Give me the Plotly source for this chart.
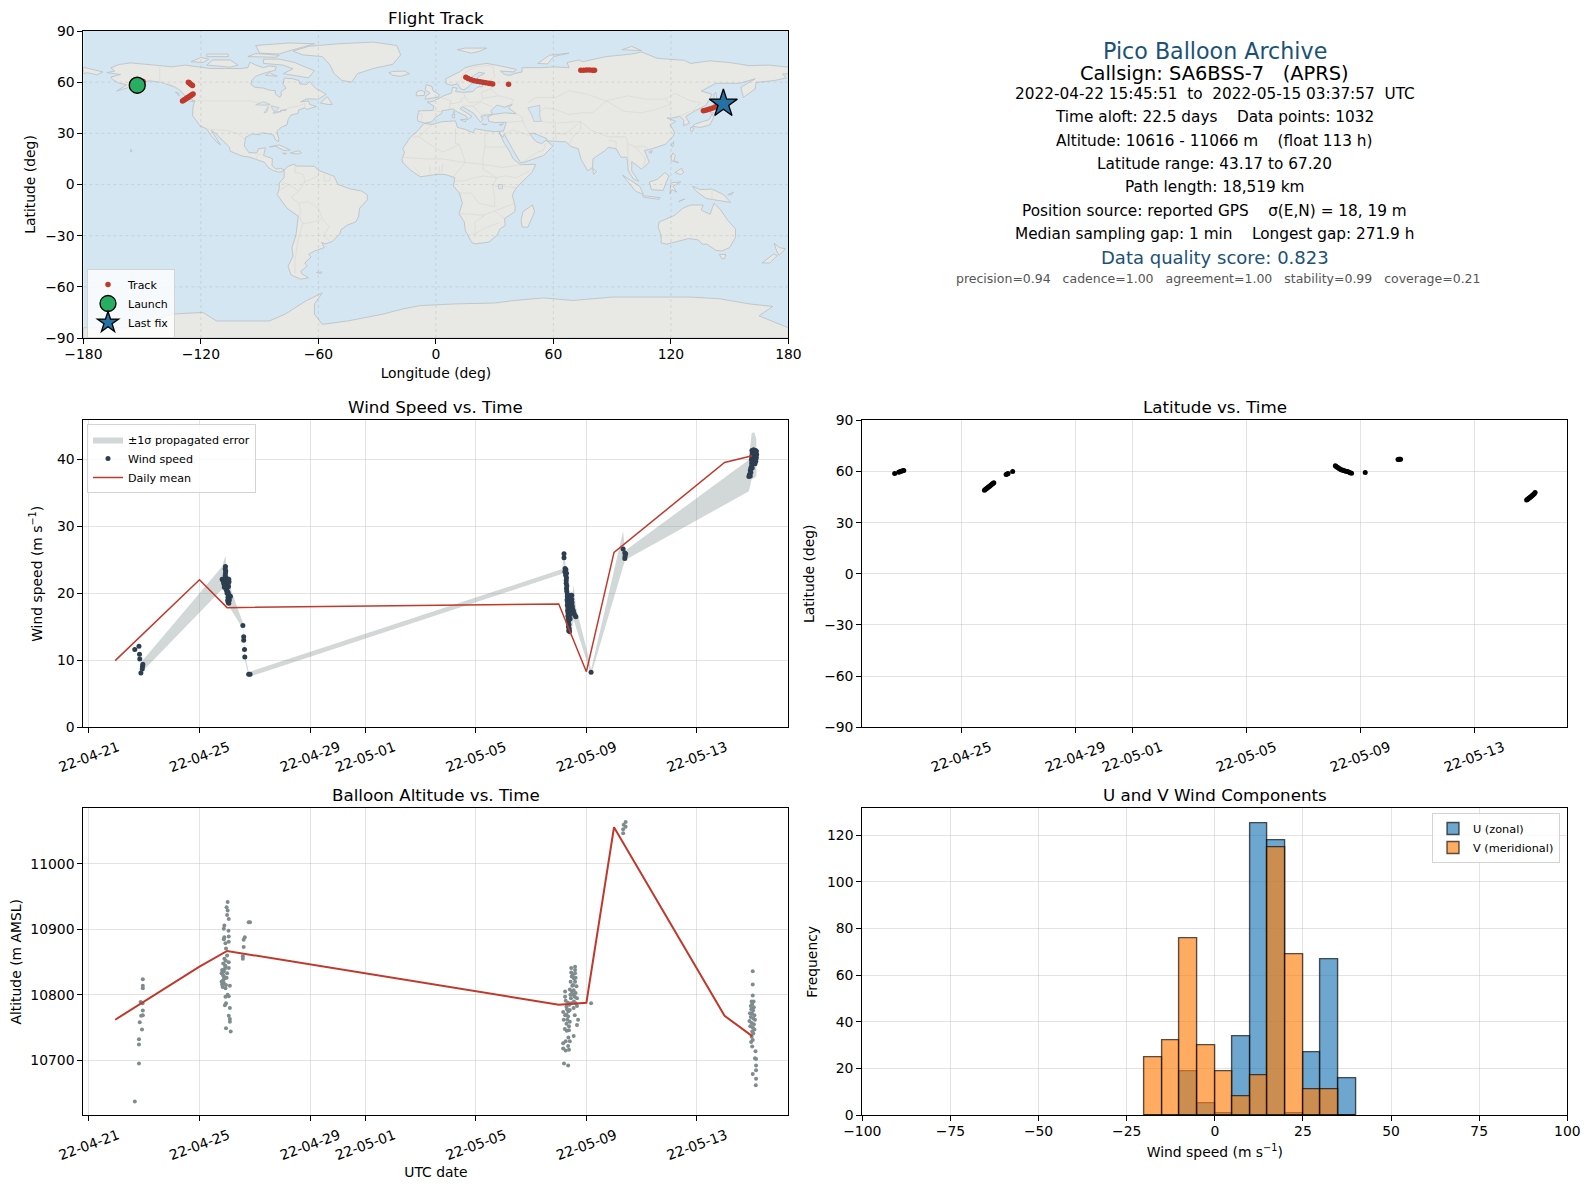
import pandas as pd
import plotly.graph_objects as go

W, H = 1590, 1189
FONT = "DejaVu Sans"
RED = "#c0392b"
NAVY = "#2c3e50"
GREY = "#7f8c8d"
TITLE_BLUE = "#1a5276"
OCEAN = "#d4e6f1"

# ---- time axis -------------------------------------------------------------
EPOCH = "2022-04-21"
TIME_RANGE = ["2022-04-20 19:12", "2022-05-16 07:26"]
LAT_TIME_RANGE = ["2022-04-21 12:50", "2022-05-16 06:29"]
TICK_DATES = ["2022-04-21", "2022-04-25", "2022-04-29", "2022-05-01", "2022-05-05", "2022-05-09", "2022-05-13"]
TICK_LABELS = ["22-04-21", "22-04-25", "22-04-29", "22-05-01", "22-05-05", "22-05-09", "22-05-13"]

# ---- daily means (days since EPOCH) ----------------------------------------
MEAN_DAYS = [0.95, 4, 5, 17, 18, 19, 23, 24]
MEAN_WIND = [9.95, 22.0, 17.85, 18.4, 8.3, 26.1, 39.5, 40.5]
MEAN_ALT = [10762, 10843, 10867, 10785, 10788, 11056, 10768, 10737]

# ---- wind speed samples ----------------------------------------------------
WIND_DAYS = [
    1.66, 1.81, 1.83, 1.84, 1.95, 1.94, 1.93, 1.88,
    4.94, 4.93, 4.95, 4.94, 4.93, 4.95, 4.82, 4.85, 4.87, 4.90, 4.92, 4.96, 5.02, 5.06, 5.0, 5.04, 5.07,
    4.88, 4.92, 4.98, 5.03, 4.9, 4.95, 5.0, 5.05, 4.98, 5.03, 5.0, 5.05, 5.1, 5.07, 5.12, 5.03, 5.05, 5.08, 5.02, 5.04, 5.06,
    5.57, 5.60, 5.60, 5.63, 5.64, 5.78, 5.83,
    17.19, 17.19, 17.23, 17.26, 17.22, 17.25, 17.28, 17.25, 17.28, 17.27, 17.27, 17.29, 17.28, 17.29, 17.31, 17.31,
    17.30, 17.32, 17.31, 17.33, 17.32, 17.34, 17.33, 17.35, 17.36, 17.34, 17.37, 17.35, 17.38, 17.36, 17.39,
    17.44, 17.47, 17.43, 17.47, 17.42, 17.48, 17.42, 17.49, 17.43, 17.50, 17.45, 17.53, 17.55, 17.58, 17.62, 17.40, 17.41,
    18.17,
    19.33, 19.39, 19.42, 19.39, 19.40,
    23.99, 24.05, 24.12, 24.15, 24.0, 24.07, 24.13, 24.16, 23.98, 24.05, 24.12, 24.15, 23.97, 24.03, 24.1, 24.13,
    23.98, 24.05, 24.1, 23.98, 24.0, 23.95, 23.93, 23.95, 23.9, 23.93, 23.88,
]
WIND_SPEED = [
    11.6, 12.1, 10.9, 10.2, 9.4, 9.1, 8.7, 8.1,
    24.0, 23.6, 23.3, 23.0, 22.6, 22.4, 22.1, 21.9, 21.7, 22.0, 21.8, 22.0, 22.0, 22.1, 21.8, 21.6, 21.7,
    21.4, 21.2, 21.3, 21.3, 20.9, 20.8, 20.8, 21.0, 20.4, 20.2, 20.0, 19.9, 19.6, 19.5, 19.5, 19.4, 19.2, 19.0, 18.9, 18.6, 18.5,
    15.2, 13.5, 13.0, 11.6, 10.5, 7.9, 7.9,
    25.9, 25.3, 23.7, 23.5, 23.2, 23.1, 23.0, 22.7, 22.3, 21.9, 21.5, 21.1, 20.7, 20.3, 19.9, 19.5,
    19.0, 18.6, 18.2, 17.8, 17.4, 17.0, 16.6, 16.2, 15.9, 15.6, 15.3, 15.0, 14.7, 14.4, 14.3,
    19.7, 19.7, 19.2, 19.1, 18.7, 18.6, 18.2, 18.1, 17.7, 17.7, 17.3, 17.4, 17.0, 16.7, 16.5, 16.8, 16.2,
    8.2,
    26.6, 26.0, 25.9, 25.2, 25.5,
    41.3, 41.4, 41.3, 41.2, 40.8, 40.9, 40.8, 40.7, 40.4, 40.3, 40.3, 40.2, 39.9, 39.9, 39.9, 39.7,
    39.4, 39.4, 39.3, 39.0, 38.7, 38.7, 38.3, 38.0, 37.7, 37.5, 37.4,
]

# ---- +/- 1 sigma band ------------------------------------------------------
BAND_DAYS = [1.88, 1.95, 4.82, 4.94, 5.0, 5.07, 5.15, 5.57, 5.64, 5.78, 5.83, 17.13, 17.19, 17.25, 17.33, 17.42,
             17.54, 17.62, 18.08, 18.17, 19.33, 19.39, 19.42, 23.88, 23.98, 24.08, 24.15]
BAND_UPPER = [8.8, 10.0, 24.0, 25.6, 22.5, 22.7, 20.4, 15.6, 11.0, 8.3, 8.3, 23.6, 26.2, 24.0, 21.0, 18.0,
              21.2, 18.0, 10.5, 8.6, 29.3, 26.5, 26.4, 39.9, 43.9, 44.0, 43.0]
BAND_LOWER = [7.6, 8.4, 20.6, 20.0, 19.5, 18.0, 17.5, 14.7, 10.1, 7.5, 7.5, 22.9, 24.7, 20.0, 14.0, 13.5,
              16.0, 15.0, 9.0, 7.8, 24.0, 24.8, 25.0, 35.2, 37.0, 37.2, 37.5]

# ---- altitude samples ------------------------------------------------------
ALT_DAYS = [
    1.66, 1.81, 1.81, 1.81, 1.92, 1.84, 1.89, 1.95, 1.95, 1.87, 1.94, 1.95, 1.95, 1.95,
    5.02, 4.98, 5.02, 5.0, 5.06, 4.90, 4.88, 5.05, 5.06, 4.90, 4.88, 5.06, 4.94, 4.96, 5.0, 5.06, 4.86, 4.94, 5.06,
    4.82, 4.88, 5.0, 4.80, 4.88, 4.98, 4.80, 4.82, 4.96, 5.10, 4.94, 5.02, 4.94, 5.06, 4.96, 4.92, 5.10, 5.06, 5.10, 5.10,
    4.96, 5.13, 4.84, 4.86, 4.90, 4.92, 4.85, 4.93, 4.90, 4.84, 4.88, 4.95,
    5.57, 5.57, 5.60, 5.60, 5.64, 5.78, 5.83,
    17.59, 17.45, 17.59, 17.45, 17.59, 17.47, 17.61, 17.43, 17.59, 17.49, 17.64, 17.40, 17.54, 17.23, 17.61, 17.42,
    17.23, 17.58, 17.66, 17.25, 17.34, 17.46, 17.61, 17.28, 17.66, 17.16, 17.40, 17.54, 17.23, 17.34, 17.58, 17.18,
    17.40, 17.70, 17.28, 17.66, 17.22, 17.37, 17.54, 17.35, 17.25, 17.40, 17.16, 17.34, 17.16, 17.25, 17.37, 17.19, 17.34,
    17.50, 17.55, 17.52, 17.48, 17.52, 17.55, 17.30, 17.35, 17.28, 17.31, 17.37, 17.29, 17.44, 17.38,
    18.17,
    19.42, 19.35, 19.42, 19.33, 19.33,
    24.02, 24.02, 24.02, 23.98, 24.05, 24.0, 23.95, 24.06, 23.97, 24.03, 23.92, 24.0, 24.08, 23.95, 24.04, 24.1, 23.9,
    23.98, 24.06, 23.93, 24.02, 24.08, 24.0, 24.04, 23.98, 24.02, 23.96, 24.0, 24.12, 24.10, 24.14, 24.14, 24.14, 24.02, 24.14, 24.13,
]
ALT_METERS = [
    10637, 10695, 10724, 10732, 10747, 10758, 10768, 10769, 10776, 10789, 10787, 10810, 10814, 10824,
    10942, 10934, 10929, 10922, 10916, 10906, 10901, 10898, 10889, 10888, 10885, 10881, 10879, 10871, 10860, 10850, 10848, 10843, 10841,
    10838, 10836, 10833, 10833, 10828, 10826, 10820, 10816, 10815, 10814, 10810, 10800, 10797, 10798, 10787, 10784, 10780, 10768, 10763, 10759,
    10749, 10744, 10835, 10830, 10825, 10840, 10822, 10845, 10855, 10812, 10818, 10852,
    10855, 10859, 10873, 10884, 10888, 10911, 10911,
    10843, 10841, 10838, 10834, 10833, 10828, 10826, 10820, 10820, 10814, 10813, 10808, 10807, 10805, 10803, 10800,
    10797, 10797, 10795, 10791, 10788, 10787, 10787, 10782, 10783, 10774, 10777, 10780, 10769, 10767, 10769, 10762,
    10759, 10762, 10756, 10754, 10748, 10746, 10737, 10735, 10729, 10729, 10726, 10722, 10718, 10715, 10716, 10695, 10692,
    10830, 10825, 10815, 10805, 10800, 10790, 10778, 10775, 10770, 10762, 10752, 10745, 10795, 10785,
    10787,
    11064, 11060, 11057, 11053, 11047,
    10836, 10816, 10799, 10790, 10790, 10786, 10783, 10781, 10778, 10776, 10772, 10771, 10769, 10766, 10764, 10762, 10760,
    10757, 10755, 10752, 10750, 10747, 10744, 10741, 10736, 10731, 10728, 10721, 10714, 10703, 10702, 10692, 10685, 10679, 10672, 10662,
]

# ---- latitude samples ------------------------------------------------------
LAT_DAYS = [1.67, 1.81, 1.85, 1.90, 1.95, 1.99,
            4.82, 4.85, 4.88, 4.91, 4.94, 4.97, 5.0, 5.03, 5.06, 5.09, 5.12, 5.15,
            5.58, 5.62, 5.65, 5.81,
            17.13, 17.16, 17.20, 17.24, 17.28, 17.32, 17.36, 17.40, 17.45, 17.50, 17.55, 17.60, 17.65, 17.70,
            18.18, 19.33, 19.36, 19.39, 19.42,
            23.84, 23.87, 23.90, 23.93, 23.96, 23.99, 24.02, 24.05, 24.08, 24.11, 24.14]
LAT_DEG = [58.8, 59.6, 59.8, 60.2, 60.4, 60.6,
           49.0, 49.4, 49.8, 50.2, 50.6, 51.0, 51.4, 51.8, 52.2, 52.6, 53.0, 53.4,
           58.2, 58.5, 58.8, 60.0,
           63.3, 62.9, 62.4, 62.0, 61.6, 61.2, 60.9, 60.7, 60.4, 60.2, 60.0, 59.7, 59.3, 58.9,
           59.4, 67.0, 67.1, 67.2, 67.1,
           43.2, 43.6, 44.0, 44.4, 44.8, 45.2, 45.6, 46.0, 46.5, 47.0, 47.6]

# ---- track on the map ------------------------------------------------------
TRACK_LON = [-153.5, -152.5, -151.5, -150.5, -149.5,
             -129.4, -128.8, -128.2, -127.6, -127.0, -126.4, -125.8, -125.2, -124.6, -124.0,
             -126.4, -126.0, -125.5, -125.0, -124.3,
             15.3, 16.5, 18.0, 19.5, 21.0, 22.5, 24.0, 25.5, 27.0, 28.0, 29.0, 37.1,
             74.0, 75.5, 77.0, 78.5, 80.0, 81.0,
             136.6, 137.8, 139.0, 140.2, 141.4, 142.6, 143.8, 145.0, 146.0]
TRACK_LAT = [58.6, 59.2, 59.6, 60.0, 60.4,
             49.0, 49.4, 49.9, 50.3, 50.8, 51.2, 51.7, 52.1, 52.6, 53.0,
             60.0, 59.6, 59.1, 58.6, 58.0,
             62.9, 62.2, 61.4, 60.9, 60.6, 60.3, 60.0, 59.7, 59.4, 59.2, 58.9, 58.8,
             67.0, 67.0, 67.1, 67.1, 67.0, 67.0,
             43.2, 43.6, 44.0, 44.4, 44.9, 45.5, 46.0, 46.7, 47.4]
LAUNCH_LON, LAUNCH_LAT = [-152.5], [58.2]
LAST_LON, LAST_LAT = [146.8], [47.4]

# ---- histogram -------------------------------------------------------------
BIN_LEFT = [-20, -15, -10, -5, 0, 5, 10, 15, 20, 25, 30, 35]
U_COUNTS = [0, 0, 19, 5, 1, 34, 125, 118, 1, 27, 67, 16]
V_COUNTS = [25, 32, 76, 30, 19, 8, 17, 115, 69, 11, 11, 0]
BIN_WIDTH = 5

# ---- info panel ------------------------------------------------------------
INFO_LINES = [
    ("Pico Balloon Archive", 22.2, TITLE_BLUE, 50.9),
    ("Callsign: SA6BSS-7   (APRS)", 19.4, "black", 73.2),
    ("2022-04-22 15:45:51  to  2022-05-15 03:37:57  UTC", 15.3, "black", 93.8),
    ("Time aloft: 22.5 days    Data points: 1032", 15.3, "black", 117.3),
    ("Altitude: 10616 - 11066 m    (float 113 h)", 15.3, "black", 140.6),
    ("Latitude range: 43.17 to 67.20", 15.3, "black", 163.9),
    ("Path length: 18,519 km", 15.3, "black", 187.2),
    ("Position source: reported GPS    σ(E,N) = 18, 19 m", 15.3, "black", 210.6),
    ("Median sampling gap: 1 min    Longest gap: 271.9 h", 15.3, "black", 234.0),
    ("Data quality score: 0.823", 18.0, TITLE_BLUE, 257.6),
    ("precision=0.94   cadence=1.00   agreement=1.00   stability=0.99   coverage=0.21", 12.5, "#555555", 278.7),
]

# ---- hand-read outlines for the base map (lon, lat) ------------------------
LAND = [
    # North America
    [(-168,65.6),(-164,66.5),(-166,68.4),(-162,70.3),(-156,71.3),(-150,70.5),(-141,69.7),(-135,69),(-128,70),(-125,69.5),(-115,68),(-108,68),(-100,68),(-96,68.5),(-95,71.8),(-92,70),(-88,68.5),(-85,69.5),(-81.5,69),(-82,67),(-87,65.5),(-92,63.5),(-94,61),(-94.5,58.8),(-92.5,57),(-88,56.5),(-85,55.3),(-82,55),(-82,53),(-80,51.3),(-79,52),(-79,54.5),(-76.5,56.5),(-78,58.7),(-77.5,62.4),(-73,62),(-70,61),(-69.5,59),(-66,58.7),(-64.5,60.3),(-61.5,56.5),(-56,53),(-60,50),(-66,50.2),(-69,48.5),(-65,49),(-64.5,47),(-61,45.7),(-66,44),(-67,45),(-70,43.7),(-70.5,41.7),(-74,40.7),(-75.5,38),(-76,35),(-79,33.5),(-81.3,31),(-80.2,27),(-80.3,25.2),(-81.8,26),(-83,29),(-85,29.7),(-89,30.3),(-90,29.2),(-94,29.6),(-97.3,27.5),(-97.8,22.5),(-95.5,18.7),(-91.5,18.5),(-90.5,21),(-87,21.5),(-88,17),(-83.5,15.2),(-83.7,11),(-81.5,9),(-79.5,9.5),(-77.5,8.6),(-78.5,7.5),(-80.5,7.3),(-83,8.2),(-85.7,10),(-87.5,13),(-92,14.6),(-95,16),(-99,16.7),(-105,19.5),(-105.5,22),(-109,26),(-112.5,30),(-114.7,31.7),(-113,28.5),(-110,23.2),(-112,25),(-115,29),(-117,32.5),(-120.5,34.5),(-122.5,37.7),(-124.3,40.3),(-124,46),(-123,49),(-127.5,51),(-130,54.5),(-133,57),(-137,58.8),(-140,59.8),(-146,60.8),(-150,60),(-152,59),(-154,58),(-158,56.5),(-163,54.8),(-158,58.5),(-162,59.5),(-165,61.5),(-166,63),(-161,64.5),(-168,65.6)],
    # Greenland and Arctic islands
    [(-73,78.2),(-65,81),(-50,82.5),(-32,83.5),(-20,81.5),(-18,76),(-22,70.5),(-32,68),(-40,65),(-43,60),(-48,61),(-52,65),(-54,70),(-58,75),(-68,76),(-73,78.2)],
    [(-80,73.5),(-72,71.5),(-68,69.5),(-62,66.7),(-65,62.5),(-72,63.8),(-78,65),(-73,67.8),(-78,70),(-88,71),(-88,73.5),(-80,73.5)],
    [(-117,70),(-105,68.8),(-101,70),(-105,73),(-114,73),(-117,70)],
    [(-125,72),(-119,71.5),(-116,73.5),(-120,74.5),(-125,72)],
    [(-90,77),(-80,76.5),(-76,78),(-62,82.5),(-75,83),(-92,81.5),(-90,77)],
    [(-96,75),(-82,74.6),(-80,75.8),(-92,76.8),(-96,75)],
    [(-117,75),(-106,75),(-106,76.5),(-117,76.5),(-117,75)],
    [(-87,64),(-81,63.5),(-85,65.5),(-87,64)],
    [(-59,47.8),(-55,46.9),(-52.8,47),(-55.5,51.5),(-59,47.8)],
    [(-85,22),(-80,23.2),(-74.3,20.2),(-77.5,19.9),(-82,22.5),(-85,22)],
    [(-74.3,18.5),(-70,19.8),(-68.5,18.5),(-71.5,17.8),(-74.3,18.5)],
    [(-78.3,18.4),(-76.3,18.2),(-77,17.8),(-78.3,18.4)],
    [(-128,50.7),(-125,50),(-123.5,48.5),(-125.5,48.8),(-128,50.7)],
    [(-156,20.7),(-155,19.6),(-155.8,19),(-156,20.7)],
    [(-154.5,57.5),(-152.5,58),(-152.5,57.2),(-154.5,57.5)],
    [(-133,54),(-131.7,54),(-131,52),(-133,54)],
    # South America
    [(-77.5,8.6),(-75.5,10.7),(-72,12),(-71.5,10.8),(-68,10.8),(-62,10.7),(-60,8.3),(-52,4.8),(-50,0),(-44,-2.5),(-38,-3.8),(-35,-6),(-35,-9),(-39,-14),(-39.5,-19),(-41,-22),(-45,-23.7),(-48.5,-26.5),(-49,-29),(-53,-33.5),(-56.5,-34.8),(-58.3,-34),(-57,-37),(-62,-39),(-65,-41),(-63.7,-42.5),(-67,-46),(-65.7,-47.7),(-69,-51),(-68.4,-52.4),(-65,-54.8),(-69,-55.5),(-74,-53),(-75.5,-48),(-73,-42),(-73.5,-37),(-71.5,-30),(-70.3,-18.5),(-76,-14),(-81,-6),(-80,-2.5),(-80,1),(-77.5,4),(-77.5,8.6)],
    [(-61,-51.5),(-58,-51.3),(-59,-52.3),(-61,-51.5)],
    # Africa
    [(-6,35.8),(-2,35.2),(3,36.8),(10,37.3),(11,33.5),(15,32.3),(19,30.3),(20,32.7),(25,31.7),(30,31),(32.5,31.2),(32.5,30),(35,24),(37.3,20),(39.5,15),(43.2,11.6),(51,11.8),(49,7),(44,1.5),(41,-2),(39,-6),(40.5,-13),(40.3,-16),(35,-20),(35.5,-24),(32.8,-26),(31,-30),(27,-33.8),(20,-34.8),(18.3,-34),(15,-27),(14.5,-22),(11.8,-17),(13.5,-11),(12,-5),(9,-1),(9.6,4),(5,5.8),(1,6),(-4,5.2),(-8,4.5),(-13,8.5),(-16.7,12.5),(-17.4,14.7),(-16,19),(-17,21),(-13,27.8),(-9.7,31),(-6,35.8)],
    [(49.3,-12),(50.4,-16),(47,-25),(44,-25),(43.5,-21),(44.4,-16),(49.3,-12)],
    # Eurasia
    [(-9,37),(-9.5,38.7),(-8.8,43.2),(-1.5,43.4),(-1,46),(-4.5,48.3),(-1.5,48.7),(1.5,50.5),(4,52),(8,53.7),(8.5,57),(10.8,56.5),(10,54.5),(14,54),(19,54.5),(21,57),(24,57.5),(23.5,59.3),(30,60),(23,60),(21.3,61),(21.3,63),(25,65.2),(22,65.8),(17.5,62.5),(18.8,60),(16.5,57),(14.3,55.5),(12.7,56),(11,59),(8,58.2),(5.3,59),(5,62),(12,66),(15,68.5),(20,70),(26,71),(31,70),(41,67.5),(40,66),(33,66.5),(35,64.5),(38,64),(40,65),(44,66),(44,68.5),(54,68.5),(60,69),(68,68.5),(67,71.5),(73,73),(75,72),(81,73.5),(87,75),(100,76.5),(105,77.7),(113,74),(127,72.8),(130,71),(140,72.5),(150,71.5),(160,69.7),(170,70),(178,69),(180,68.8),(180,65),(177,64.7),(179,62.5),(173,61),(163.5,59.8),(163,56),(157,51),(155.7,57),(163,62),(155,59.3),(143,59.3),(135.5,54.8),(141,53),(138,46.5),(132,43),(127.5,39.8),(129.5,36),(126.5,34.5),(126.5,37.7),(124.5,40),(121,39),(118,39),(122.5,37),(119.5,35),(122,30.5),(121,28),(117,23.5),(110.5,21),(106.5,20),(109,13),(105,9),(103,11),(100,13.5),(100,8),(103.5,2),(101,3),(98.3,8),(97.5,16),(94.5,16),(92,21),(88,21.8),(86.5,20),(80.2,15),(80,10),(77.5,8),(74,15),(72.7,21),(69,22.3),(66.5,25),(57,25.5),(56.5,27),(50,30),(48,29.8),(50,26.5),(51.5,25),(54,24),(56.3,26),(59.7,22.5),(55,17),(45,13),(43.2,12.8),(39,21),(34.9,29.5),(34.2,27.8),(32.7,29.7),(32.5,31.2),(34.5,31.3),(36,36.5),(30,36.3),(27,37),(26.5,39.7),(29,41),(35,42),(41,41.5),(37,45),(39,47),(35,45.3),(33,46),(31,46.5),(28,43),(29,41.2),(26,40.7),(23,40),(24,38),(22.8,36.5),(19.5,41.5),(13.7,45.6),(12.3,44.5),(16,41.5),(18.4,40),(16,38),(15.7,40),(11,42.5),(8.8,44.3),(3,43.2),(3,41.7),(-0.3,39.3),(-2,36.8),(-5.5,36),(-9,37)],
    [(-180,68.8),(-175,67.5),(-170,66),(-173,64.3),(-178,65.5),(-180,65),(-180,68.8)],
    # European and Asian islands
    [(-5.5,50),(1.3,51.2),(1.7,52.7),(-1.5,55),(-2,57.5),(-5,58.5),(-5.5,55.5),(-3,53.5),(-5,52),(-5.5,50)],
    [(-10,52),(-6,52.2),(-5.7,54.5),(-8,55.2),(-10,54),(-10,52)],
    [(-24,65.5),(-22,64),(-18,63.4),(-13.5,65),(-16,66.5),(-22,66.3),(-24,65.5)],
    [(11,79),(18,77),(22,78),(26,80),(15,80),(11,79)],
    [(52,71),(57,70.7),(60,75),(68,77),(58,75.8),(52,71)],
    [(95,79),(105,78.5),(100,81),(95,79)],
    [(12.5,38),(15.5,38.2),(15,36.7),(12.5,38)],
    [(8.3,41),(9.7,41),(9.5,39),(8.5,39),(8.3,41)],
    [(8.7,42.5),(9.5,43),(9.3,41.5),(8.7,42.5)],
    [(23.5,35.5),(26.2,35.2),(24.8,34.9),(23.5,35.5)],
    [(32.3,35),(34.5,35.6),(33.7,34.7),(32.3,35)],
    [(80,9.5),(82,7.5),(80.5,6),(80,9.5)],
    [(130.9,34),(135.5,33.5),(140,35),(141.9,39.5),(141,41.4),(139.5,38),(136.5,37),(132.5,35.5),(130.9,34)],
    [(130,33.5),(131.7,33),(131,31),(130,31.5),(130,33.5)],
    [(140,42),(141.7,45.4),(145.5,43.5),(143,42),(140,42)],
    [(142,46),(143.5,49),(143,54),(142,53),(142,46)],
    [(120,23),(121.5,25.2),(121,22),(120,23)],
    [(108.7,19),(110.5,20),(110,18.3),(108.7,19)],
    [(120,16),(121,18.5),(122.3,17),(121.5,14),(124,12.8),(120.5,13.8),(120,16)],
    [(122,7),(125.5,9.5),(126.5,7),(125,5.8),(122,7)],
    [(109,1.5),(113,3),(117,7),(119,5),(117.5,1),(116,-3.5),(110,-3),(109,1.5)],
    [(95.3,5.5),(104,-1),(106,-5.8),(102,-4),(95.3,5.5)],
    [(105.5,-6.5),(114.5,-7.7),(114,-8.7),(106,-7.5),(105.5,-6.5)],
    [(119.5,-5.5),(120,1),(125,1.5),(121,-1),(123,-4.5),(120.5,-3),(119.5,-5.5)],
    [(131,-1),(135,-3),(141,-2.7),(147,-6),(150.5,-10.5),(143,-9),(138,-8.2),(133,-4),(131,-1)],
    [(149,-6),(152,-4.5),(151,-6),(149,-6)],
    [(124,-10),(127,-8.5),(125,-9.5),(124,-10)],
    # Oceania
    [(114,-22),(122,-18),(126,-14),(130,-12),(136.5,-12),(135.5,-15),(140,-17.5),(142,-11),(145.5,-15),(149,-21),(153,-26),(153,-31),(150,-37),(146,-39),(143,-38.7),(138.5,-35),(136,-35),(134,-32.5),(129,-31.7),(124,-33),(118,-35),(115,-34.3),(115,-30),(113.5,-25),(114,-22)],
    [(144.7,-41),(148,-41),(147.5,-43.5),(146,-43.5),(144.7,-41)],
    [(172.7,-34.5),(175.5,-37),(178.5,-37.7),(175.3,-41.5),(174,-39),(172.7,-34.5)],
    [(172.5,-40.7),(174.3,-41.7),(170.5,-46),(166.5,-46),(172.5,-40.7)],
    # Antarctica
    [(-180,-84),(-155,-84),(-135,-76),(-119,-75),(-112,-80),(-85,-80),(-77,-76),(-66,-68),(-58,-63.5),(-62,-70),(-62,-76),(-58,-82),(-45,-80),(-35,-78),(-27,-76),(-17,-73),(-8,-71),(10,-70),(30,-69.5),(40,-68),(55,-66.5),(70,-68),(80,-67),(90,-66),(110,-66),(130,-66),(145,-67),(160,-70),(172,-71.5),(165,-77),(180,-84),(180,-90),(-180,-90),(-180,-84)],
]
LAKES = [
    [(47,45),(53,46.5),(53,40),(54,37),(50,37),(49,40.5),(47,45)],
    [(-92,46.7),(-88,48.5),(-84.7,47),(-87,46.5),(-92,46.7)],
    [(-87.8,42),(-85.5,45.7),(-86.3,42.5),(-87.8,42)],
    [(-84,46),(-80,45),(-82,43),(-83.5,44),(-84,46)],
    [(-83,41.7),(-79,42.8),(-83,42.5),(-83,41.7)],
    [(-79.5,43.4),(-76.3,44),(-76.5,43.4),(-79.5,43.4)],
    [(32,0),(34,0),(34,-2.5),(32,-2.5),(32,0)],
]
BORDERS = [
    [(-123,49),(-95,49),(-83,46),(-82.5,42),(-79,43),(-75,45),(-70,46),(-67,47.5),(-67,45)],
    [(-141,69.7),(-141,60),(-135,58.5),(-130,55)],
    [(-117,32.5),(-106.5,31.7),(-101,29.7),(-97.3,26)],
    [(-92,14.6),(-91,17.5),(-89,18)],
    [(-72,12),(-72,7),(-67.5,6),(-67,1.5)],
    [(-79,1.5),(-75,0),(-70,-4)],
    [(-67,1.5),(-70,-4),(-74,-7.5),(-70,-11),(-65,-10),(-60,-14),(-58,-20),(-54.5,-25),(-57.5,-30),(-53.5,-33.7)],
    [(-70,-18),(-68,-23),(-70.5,-33),(-72,-45),(-72,-52)],
    [(-68,-23),(-62.5,-22),(-58,-20)],
    [(-70,-11),(-69,-16),(-70,-18)],
    [(-67,1.5),(-60,5),(-60,8)],
    [(-57,6),(-57,2),(-54,2.3),(-54,5.8)],
    [(-80,-3.5),(-75,0)],
    [(-2,35),(-8.7,28),(-13,27.8)],
    [(10,33),(10,24),(12,23.5)],
    [(12,23.5),(3.5,19),(-5,25),(-8.7,28)],
    [(25,31.7),(25,22),(36.8,22)],
    [(-17,16),(-5,15),(3,15),(14,13),(23,12),(34,10),(43,11.5)],
    [(25,22),(24,15),(24,9),(31,4),(35,5),(41,4),(48,8)],
    [(12,23.5),(15,13),(9,4.5)],
    [(12,-5),(18,-5),(22,-11),(30,-13),(30,-8),(29,-1),(31,4),(24,5),(18,3.5),(14,2),(9.5,2)],
    [(12,-17),(24,-18),(30,-15.5),(40.5,-11)],
    [(20,-29),(20,-22),(25,-18)],
    [(17,-29),(20,-29),(25,-25.5),(32,-22.5)],
    [(-11,10),(-8,6)],
    [(-3,5),(-3,11)],
    [(1.5,6),(2,11)],
    [(3,6.5),(3.5,12)],
    [(35,-20),(30,-15.5)],
    [(30,-1),(34,-1),(41,-2)],
    [(2.5,51),(8,49),(7,47.5),(7,44)],
    [(14,54),(15,51),(12.5,50),(13.5,48.7),(9.5,47.5),(7,47.5)],
    [(23,54),(24,50.5),(22.5,48.5),(17,48),(15,51)],
    [(22.5,48.5),(29,45.5)],
    [(24,50.5),(32,52),(40,49.8),(38,47)],
    [(28,56),(32,52)],
    [(30,60),(28,56),(23,54)],
    [(11,59),(12.5,61),(14,65),(20,69),(29,70)],
    [(27,60.3),(30,63),(29,70)],
    [(-1.7,43.4),(3,42.5)],
    [(-9,42),(-7,41),(-7.5,37)],
    [(13.5,46),(19,46),(22.5,48.5)],
    [(19,46),(23,41),(26,41.5)],
    [(36,36.5),(44.5,37.2),(44,39.5),(41.5,41.5)],
    [(44.5,37.2),(46,33),(48,30)],
    [(35,29),(39,32),(47,29),(48,28.5)],
    [(44,13),(52,19),(55,20),(56,24.5)],
    [(61,37),(61,30),(61.5,25)],
    [(54,37),(61,36)],
    [(61,30),(66,29.5),(71,34),(74,37),(62,36)],
    [(68,23.7),(70,28),(74,32),(74,37)],
    [(74,37),(79,32),(88,28),(97,28),(98,24),(102,22),(106,22.5),(108,21.5)],
    [(47,48),(51,51),(61,51),(68,55),(77,53),(87,49)],
    [(52,42),(56,45),(61,44),(68,41),(74,42),(80,42),(87,49)],
    [(87,49),(98,52),(107,50),(117,50),(120,47),(112,44),(105,42),(96,43),(87,49)],
    [(117,50),(122,53.5),(130,49),(135,48),(131,43)],
    [(124.5,40),(130,42.8)],
    [(98,24),(98,16),(99,11)],
    [(102,22),(107,15),(106,11)],
    [(88,26),(92,25),(92,21)],
    [(141,-2.7),(141,-9)],
]
MAP_LON_TICKS = [-180, -120, -60, 0, 60, 120, 180]
MAP_LAT_TICKS = [-90, -60, -30, 0, 30, 60, 90]


def stitch(parts):
    lon, lat = [], []
    for part in parts:
        lon += [p[0] for p in part] + [None]
        lat += [p[1] for p in part] + [None]
    return lon, lat


def to_dates(days):
    base = pd.Timestamp(EPOCH)
    return [base + pd.Timedelta(days=float(d)) for d in days]


def dom_x(left, right):
    return [left / W, right / W]


def dom_y(top, bottom):
    return [1 - bottom / H, 1 - top / H]


L1, R1 = 83.4, 788.4
L2, R2 = 862.3, 1567.3
ROW1 = (31, 338)
ROW2 = (420.3, 727.3)
ROW3 = (808.3, 1115.3)

axis_style = dict(
    showline=True, linecolor="black", linewidth=1.1, mirror=True,
    ticks="outside", ticklen=5, tickwidth=1.1, tickcolor="black",
    tickfont=dict(family=FONT, size=13.9, color="black"),
    showgrid=True, gridcolor="rgba(185,185,185,0.4)", gridwidth=1,
    zeroline=False, automargin=False,
)
title_font = dict(family=FONT, size=13.9, color="black")


def date_axis(domain, anchor, title=None, time_range=TIME_RANGE, vals=TICK_DATES, labels=TICK_LABELS):
    ax = dict(axis_style, domain=domain, anchor=anchor, type="date", range=time_range,
              tickmode="array", tickvals=vals, ticktext=labels, tickangle=-20,
              ticklabelshift=29, ticklabelstandoff=1)
    if title:
        ax["title"] = dict(text=title, font=title_font, standoff=5)
    return ax


fig = go.Figure()

# --- map
land_lon, land_lat = stitch(LAND)
lake_lon, lake_lat = stitch(LAKES)
border_lon, border_lat = stitch(BORDERS)
fig.add_trace(go.Scatter(x=land_lon, y=land_lat, mode="lines", fill="toself", fillcolor="#e8e8e4",
                         line=dict(color="#bcc3c7", width=0.9), hoverinfo="skip", showlegend=False,
                         xaxis="x", yaxis="y"))
fig.add_trace(go.Scatter(x=border_lon, y=border_lat, mode="lines", line=dict(color="#d9d9d6", width=0.7),
                         hoverinfo="skip", showlegend=False, xaxis="x", yaxis="y"))
fig.add_trace(go.Scatter(x=lake_lon, y=lake_lat, mode="lines", fill="toself", fillcolor=OCEAN,
                         line=dict(color="#bcc3c7", width=0.7), hoverinfo="skip", showlegend=False,
                         xaxis="x", yaxis="y"))
fig.add_trace(go.Scatter(x=TRACK_LON, y=TRACK_LAT, mode="markers", name="Track", legend="legend",
                         marker=dict(color=RED, size=5.5, line=dict(width=0)), xaxis="x", yaxis="y"))
fig.add_trace(go.Scatter(x=LAUNCH_LON, y=LAUNCH_LAT, mode="markers", name="Launch", legend="legend",
                         marker=dict(color="#27ae60", size=16, line=dict(color="black", width=1.3)),
                         xaxis="x", yaxis="y"))
fig.add_trace(go.Scatter(x=LAST_LON, y=LAST_LAT, mode="markers", name="Last fix", legend="legend",
                         marker=dict(color="#2471a3", size=21, symbol="star", line=dict(color="black", width=1.3)),
                         xaxis="x", yaxis="y"))

# --- wind
fig.add_trace(go.Scatter(x=to_dates(BAND_DAYS + BAND_DAYS[::-1]), y=BAND_UPPER + BAND_LOWER[::-1],
                         mode="lines", fill="toself", fillcolor="rgba(127,140,141,0.35)",
                         line=dict(width=0), name="±1σ propagated error", legend="legend2",
                         xaxis="x2", yaxis="y2"))
fig.add_trace(go.Scatter(x=to_dates(WIND_DAYS), y=WIND_SPEED, mode="markers", name="Wind speed", legend="legend2",
                         marker=dict(color=NAVY, size=5, line=dict(width=0)), xaxis="x2", yaxis="y2"))
fig.add_trace(go.Scatter(x=to_dates(MEAN_DAYS), y=MEAN_WIND, mode="lines", name="Daily mean", legend="legend2",
                         line=dict(color=RED, width=1.5), xaxis="x2", yaxis="y2"))

# --- latitude
fig.add_trace(go.Scatter(x=to_dates(LAT_DAYS), y=LAT_DEG, mode="markers", showlegend=False,
                         marker=dict(color="black", size=5, line=dict(width=0)), xaxis="x3", yaxis="y3"))

# --- altitude
fig.add_trace(go.Scatter(x=to_dates(ALT_DAYS), y=ALT_METERS, mode="markers", showlegend=False,
                         marker=dict(color=GREY, size=4, line=dict(width=0)), xaxis="x4", yaxis="y4"))
fig.add_trace(go.Scatter(x=to_dates(MEAN_DAYS), y=MEAN_ALT, mode="lines", showlegend=False,
                         line=dict(color=RED, width=2), xaxis="x4", yaxis="y4"))

# --- histogram
bin_mid = [b + BIN_WIDTH / 2 for b in BIN_LEFT]
fig.add_trace(go.Bar(x=bin_mid, y=U_COUNTS, width=BIN_WIDTH, name="U (zonal)", legend="legend3",
                     marker=dict(color="rgba(31,119,180,0.65)", line=dict(color="rgba(0,0,0,0.65)", width=1.4)),
                     xaxis="x5", yaxis="y5"))
fig.add_trace(go.Bar(x=bin_mid, y=V_COUNTS, width=BIN_WIDTH, name="V (meridional)", legend="legend3",
                     marker=dict(color="rgba(255,127,14,0.65)", line=dict(color="rgba(0,0,0,0.65)", width=1.4)),
                     xaxis="x5", yaxis="y5"))

# --- ocean behind the land; map grid above the land
shapes = [dict(type="rect", xref="x domain", yref="y domain", x0=0, x1=1, y0=0, y1=1, layer="below",
               fillcolor=OCEAN, line=dict(width=0))]
for v in MAP_LON_TICKS[1:-1]:
    shapes.append(dict(type="line", xref="x", yref="y domain", x0=v, x1=v, y0=0, y1=1, layer="above",
                       line=dict(color="rgba(150,150,150,0.3)", width=0.8, dash="dot")))
for v in MAP_LAT_TICKS[1:-1]:
    shapes.append(dict(type="line", xref="x domain", yref="y", x0=0, x1=1, y0=v, y1=v, layer="above",
                       line=dict(color="rgba(150,150,150,0.3)", width=0.8, dash="dot")))

annotations = []


def panel_title(text, left, right, top):
    annotations.append(dict(text=text, xref="paper", yref="paper", x=(left + right) / 2 / W, y=1 - (top - 1.5) / H,
                            xanchor="center", yanchor="bottom", showarrow=False,
                            font=dict(family=FONT, size=16.7, color="black")))


panel_title("Flight Track", L1, R1, ROW1[0])
panel_title("Wind Speed vs. Time", L1, R1, ROW2[0])
panel_title("Latitude vs. Time", L2, R2, ROW2[0])
panel_title("Balloon Altitude vs. Time", L1, R1, ROW3[0])
panel_title("U and V Wind Components", L2, R2, ROW3[0])

for text, size, color, ypx in INFO_LINES:
    nudge = 4 if size < 13 else 0
    annotations.append(dict(text=text, xref="paper", yref="paper", x=((L2 + R2) / 2 + nudge) / W, y=1 - ypx / H,
                            xanchor="center", yanchor="middle", showarrow=False,
                            font=dict(family=FONT, size=size, color=color)))

legend_common = dict(bgcolor="rgba(255,255,255,0.8)", bordercolor="#d4d4d4", borderwidth=1,
                     xanchor="left", yanchor="top", tracegroupgap=0, itemsizing="trace", itemwidth=30)

fig.update_layout(
    width=W, height=H, margin=dict(l=0, r=0, t=0, b=0), paper_bgcolor="white", plot_bgcolor="white",
    font=dict(family=FONT, color="black"), barmode="overlay", bargap=0,
    shapes=shapes, annotations=annotations,
    xaxis=dict(axis_style, domain=dom_x(L1, R1), anchor="y", range=[-180, 180], tickmode="array",
               tickvals=MAP_LON_TICKS, showgrid=False, ticklabelstandoff=-2,
               title=dict(text="Longitude (deg)", font=title_font, standoff=7)),
    yaxis=dict(axis_style, domain=dom_y(*ROW1), anchor="x", range=[-90, 90], tickmode="array",
               tickvals=MAP_LAT_TICKS, showgrid=False,
               title=dict(text="Latitude (deg)", font=title_font, standoff=6)),
    xaxis2=date_axis(dom_x(L1, R1), "y2"),
    yaxis2=dict(axis_style, domain=dom_y(*ROW2), anchor="x2", range=[0, 45.8], tickmode="array",
                tickvals=[0, 10, 20, 30, 40],
                title=dict(text="Wind speed (m s<sup>−1</sup>)", font=title_font, standoff=11)),
    xaxis3=date_axis(dom_x(L2, R2), "y3", time_range=LAT_TIME_RANGE, vals=TICK_DATES[1:], labels=TICK_LABELS[1:]),
    yaxis3=dict(axis_style, domain=dom_y(*ROW2), anchor="x3", range=[-90, 90], tickmode="array",
                tickvals=MAP_LAT_TICKS,
                title=dict(text="Latitude (deg)", font=title_font, standoff=6)),
    xaxis4=date_axis(dom_x(L1, R1), "y4", "UTC date"),
    yaxis4=dict(axis_style, domain=dom_y(*ROW3), anchor="x4", range=[10616, 11085], tickmode="array",
                tickvals=[10700, 10800, 10900, 11000], tickformat="d",
                title=dict(text="Altitude (m AMSL)", font=title_font, standoff=5)),
    xaxis5=dict(axis_style, domain=dom_x(L2, R2), anchor="y5", range=[-100, 100], tickmode="array",
                tickvals=[-100, -75, -50, -25, 0, 25, 50, 75, 100], ticklabelstandoff=-2,
                title=dict(text="Wind speed (m s<sup>−1</sup>)", font=title_font, standoff=9)),
    yaxis5=dict(axis_style, domain=dom_y(*ROW3), anchor="x5", range=[0, 131.5], tickmode="array",
                tickvals=[0, 20, 40, 60, 80, 100, 120],
                title=dict(text="Frequency", font=title_font, standoff=6)),
    legend=dict(legend_common, x=87 / W, y=1 - 269 / H, font=dict(family=FONT, size=11, color="black")),
    legend2=dict(legend_common, x=87 / W, y=1 - 424 / H, font=dict(family=FONT, size=11.1, color="black")),
    legend3=dict(legend_common, x=1432 / W, y=1 - 813 / H, font=dict(family=FONT, size=11.3, color="black")),
)

fig.write_html("out.html", config={"displayModeBar": False},
               post_script="document.body.style.margin='0';document.body.style.overflow='hidden';")
